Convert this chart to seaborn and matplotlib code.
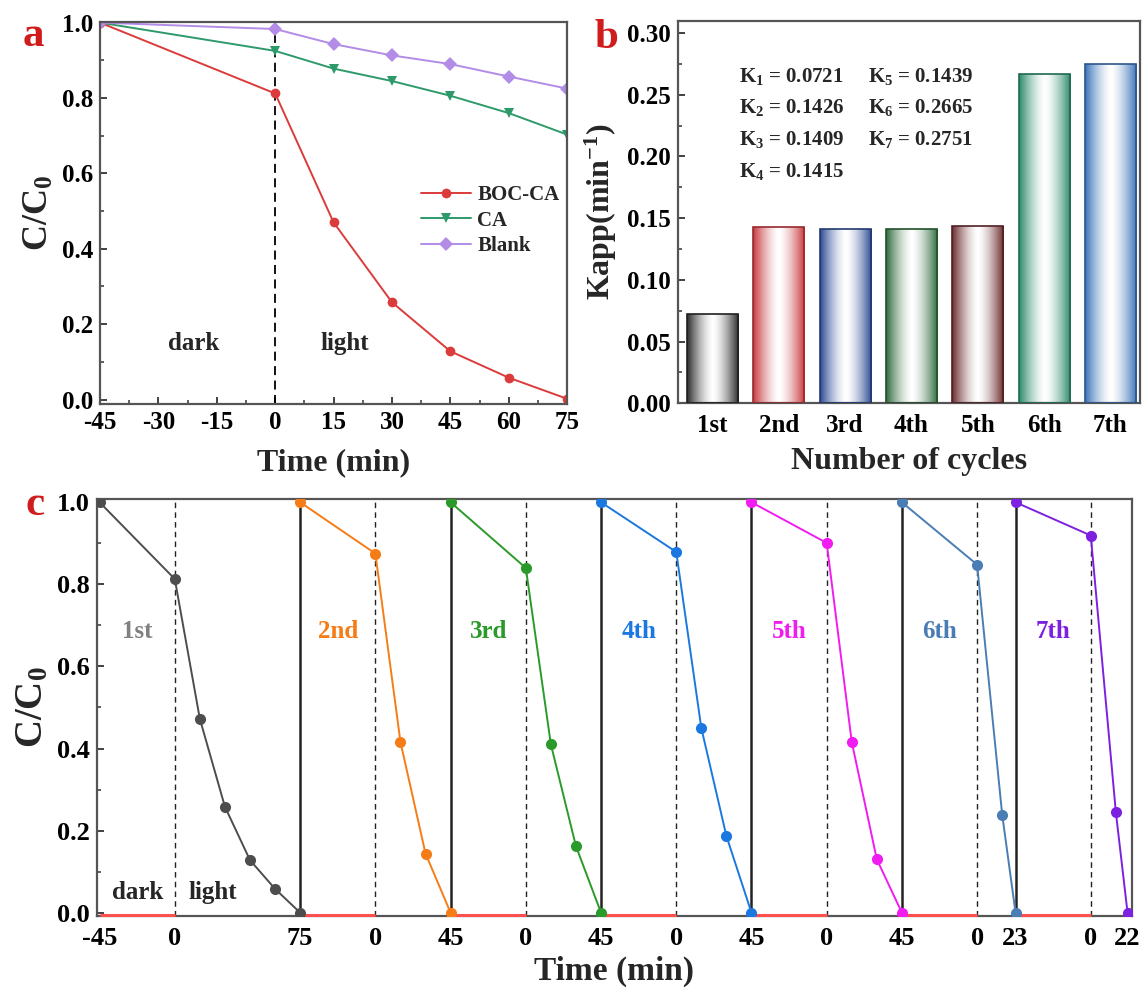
import numpy as np
import pandas as pd
import matplotlib
matplotlib.use("Agg")
import matplotlib.pyplot as plt
import seaborn as sns
from matplotlib.ticker import MultipleLocator
from matplotlib.colors import to_rgb

# ---------------- data ----------------
# panel a
time_a = [-45, 0, 15, 30, 45, 60, 75]
boc_ca = [1.0, 0.812, 0.470, 0.258, 0.128, 0.058, 0.002]
ca = [1.0, 0.925, 0.878, 0.845, 0.806, 0.760, 0.703]
blank = [1.0, 0.983, 0.943, 0.913, 0.890, 0.857, 0.825]
series_a = ["BOC-CA", "CA", "Blank"]
xticks_a = [-45, -30, -15, 0, 15, 30, 45, 60, 75]

# panel b
cycles = ["1st", "2nd", "3rd", "4th", "5th", "6th", "7th"]
kapp = [0.0721, 0.1426, 0.1409, 0.1415, 0.1439, 0.2665, 0.2751]
k_text = ["0.0721", "0.1426", "0.1409", "0.1415", "0.1439", "0.2665", "0.2751"]

# panel c
cyc1_t = [-45, 0, 15, 30, 45, 60, 75]
cyc1_c = [1.0, 0.813, 0.472, 0.258, 0.128, 0.058, 0.0]
cyc2_t = [-45, 0, 15, 30, 45]
cyc2_c = [1.0, 0.875, 0.416, 0.144, 0.0]
cyc3_t = [-45, 0, 15, 30, 45]
cyc3_c = [1.0, 0.840, 0.410, 0.162, 0.0]
cyc4_t = [-45, 0, 15, 30, 45]
cyc4_c = [1.0, 0.879, 0.450, 0.187, 0.0]
cyc5_t = [-45, 0, 15, 30, 45]
cyc5_c = [1.0, 0.901, 0.416, 0.130, 0.0]
cyc6_t = [-45, 0, 15, 23]
cyc6_c = [1.0, 0.848, 0.239, 0.0]
cyc7_t = [-45, 0, 15, 22]
cyc7_c = [1.0, 0.919, 0.245, 0.0]

# ---------------- style ----------------
sns.set_theme(style="ticks")
plt.rcParams["font.family"] = ["Liberation Serif", "DejaVu Serif"]
plt.rcParams["font.weight"] = "bold"
plt.rcParams["axes.labelweight"] = "bold"
plt.rcParams["mathtext.fontset"] = "custom"
plt.rcParams["mathtext.rm"] = "Liberation Serif:bold"
plt.rcParams["mathtext.bf"] = "Liberation Serif:bold"
plt.rcParams["mathtext.it"] = "Liberation Serif:bold:italic"

TICK = 18
LAB = 23
SPINE = "#555555"
RED = "#d01c1c"

fig = plt.figure(figsize=(11.42, 9.94), dpi=100)
ax_a = fig.add_axes([0.0876, 0.5935, 0.4090, 0.3845])
ax_b = fig.add_axes([0.5937, 0.5943, 0.4046, 0.3850])
ax_c = fig.add_axes([0.0850, 0.0785, 0.9060, 0.4195])


def style_axes(ax, size=TICK):
    for s in ax.spines.values():
        s.set_color(SPINE)
        s.set_linewidth(1.6)
    ax.tick_params(direction="in", length=5, width=1.3, colors="#333333",
                   labelsize=size, labelcolor="black", pad=5)
    ax.tick_params(which="minor", direction="in", length=3, width=1.1, colors="#333333")


# ---------------- panel a ----------------
df_a = pd.DataFrame({
    "time": time_a * 3,
    "value": boc_ca + ca + blank,
    "sample": sum([[s] * len(time_a) for s in series_a], []),
})
pal_a = {"BOC-CA": "#dc3b3b", "CA": "#2e9a6a", "Blank": "#b28ce6"}
mk_a = {"BOC-CA": "o", "CA": "v", "Blank": "D"}
sns.lineplot(data=df_a, x="time", y="value", hue="sample", style="sample",
             palette=pal_a, markers=mk_a, dashes=False, markersize=7,
             markeredgewidth=0, linewidth=1.4, ax=ax_a, sort=False)
ax_a.axvline(0, color="black", ls=(0, (5, 3)), lw=1.3, zorder=1)
ax_a.set_xlim(-45, 75)
ax_a.set_ylim(-0.012, 1.002)
ax_a.set_xticks(xticks_a)
ax_a.set_xticklabels([str(v) for v in xticks_a])
ax_a.xaxis.set_minor_locator(MultipleLocator(7.5))
ax_a.set_yticks([0.0, 0.2, 0.4, 0.6, 0.8, 1.0])
ax_a.yaxis.set_minor_locator(MultipleLocator(0.1))
ax_a.set_xlabel("Time (min)", fontsize=LAB, labelpad=10)
ax_a.set_ylabel("C/C$_0$", fontsize=LAB + 3, labelpad=4)
style_axes(ax_a)
ax_a.text(-21, 0.15, "dark", fontsize=TICK, ha="center", va="center")
ax_a.text(18, 0.15, "light", fontsize=TICK, ha="center", va="center")
leg = ax_a.legend(loc="center left", bbox_to_anchor=(0.687, 0.48), frameon=False,
                  fontsize=15, handlelength=2.4, handletextpad=0.3,
                  labelspacing=0.25, borderaxespad=0, borderpad=0)
ax_a.text(-0.143, 0.962, "a", transform=ax_a.transAxes, color=RED,
          fontsize=31, fontweight="bold", ha="center", va="center")

# ---------------- panel b ----------------
bar_cols = ["#2b2b2b", "#c8383c", "#2d4c94", "#2f6b3c", "#6b2b2e", "#2a8a6a", "#3a73b8"]
df_b = pd.DataFrame({"cycle": cycles, "kapp": kapp})
sns.barplot(data=df_b, x="cycle", y="kapp", hue="cycle", palette=bar_cols,
            width=0.77, legend=False, ax=ax_b, saturation=1)
for patch, col in zip(ax_b.patches, bar_cols):
    x0, y0 = patch.get_x(), patch.get_y()
    w, h = patch.get_width(), patch.get_height()
    rgb = np.array(to_rgb(col))
    t = np.abs(np.linspace(-1, 1, 200))
    f = np.clip(t ** 1.5, 0, 1)[:, None]
    grad = (1 - f) * np.ones(3) + f * rgb
    grad = grad[None, :, :]
    im = ax_b.imshow(grad, extent=[x0, x0 + w, y0, y0 + h], aspect="auto",
                     zorder=2, interpolation="bilinear")
    im.set_clip_path(patch)
    patch.set_facecolor("none")
    patch.set_edgecolor(rgb * 0.75)
    patch.set_linewidth(1.2)
    patch.set_zorder(3)
ax_b.set_xlim(-0.518, 6.446)
ax_b.set_ylim(0, 0.31)
ax_b.set_yticks([0.0, 0.05, 0.10, 0.15, 0.20, 0.25, 0.30])
ax_b.set_yticklabels(["0.00", "0.05", "0.10", "0.15", "0.20", "0.25", "0.30"])
ax_b.yaxis.set_minor_locator(MultipleLocator(0.025))
ax_b.set_xlabel("Number of cycles", fontsize=LAB, labelpad=7)
ax_b.set_ylabel("Kapp(min$^{-1}$)", fontsize=LAB, labelpad=6)
style_axes(ax_b)
ax_b.tick_params(axis="x", length=0, pad=8)
rows = [0.2648, 0.2392, 0.2135, 0.1878]
for i, val in enumerate(k_text):
    col = 0 if i < 4 else 1
    row = i if i < 4 else i - 4
    xf = 0.132 if col == 0 else 0.411
    ax_b.text(xf, rows[row], "K$_{%d}$ = %s" % (i + 1, val), fontsize=15,
              transform=ax_b.get_yaxis_transform(), ha="left", va="center")
ax_b.text(-0.155, 0.955, "b", transform=ax_b.transAxes, color=RED,
          fontsize=31, fontweight="bold", ha="center", va="center")

# ---------------- panel c ----------------
cyc_t = [cyc1_t, cyc2_t, cyc3_t, cyc4_t, cyc5_t, cyc6_t, cyc7_t]
cyc_c = [cyc1_c, cyc2_c, cyc3_c, cyc4_c, cyc5_c, cyc6_c, cyc7_c]
cyc_cols = ["#4d4d4d", "#f57c16", "#2a9a2a", "#1a78e0", "#f01cf0", "#4a7db4", "#7d20e0"]
lab_cols = ["#808080", "#f57c16", "#2a9a2a", "#1a78e0", "#f01cf0", "#4a7db4", "#7d20e0"]

rows_c = []
starts, zeros, ends = [], [], []
for k, (tt, cc) in enumerate(zip(cyc_t, cyc_c)):
    shift = 0.0 if k == 0 else ends[-1] - tt[0]
    xs = [t + shift for t in tt]
    starts.append(xs[0]); zeros.append(shift); ends.append(xs[-1])
    for x, c in zip(xs, cc):
        rows_c.append({"x": x, "c": c, "cycle": cycles[k]})
df_c = pd.DataFrame(rows_c)

sns.lineplot(data=df_c, x="x", y="c", hue="cycle", palette=cyc_cols,
             marker="o", markersize=8, markeredgewidth=0, linewidth=1.4,
             legend=False, ax=ax_c, sort=False, zorder=4)
for k in range(len(cyc_t)):
    ax_c.axvline(zeros[k], color="#222222", ls=(0, (4, 3)), lw=1.0, zorder=1)
    if k > 0:
        ax_c.axvline(starts[k], color="#222222", lw=1.8, zorder=2)
    ax_c.plot([starts[k], zeros[k]], [-0.006, -0.006], color="#ff5050", lw=2.2,
              zorder=3, clip_on=False, solid_capstyle="butt")
    ax_c.text((starts[k] + zeros[k]) / 2, 0.686, cycles[k], color=lab_cols[k],
              fontsize=TICK, ha="center", va="center")
ax_c.text((starts[0] + zeros[0]) / 2, 0.05, "dark", fontsize=TICK, ha="center", va="center")
ax_c.text(zeros[0] + 23, 0.05, "light", fontsize=TICK, ha="center", va="center")

ticks_c = [starts[0]]
labels_c = [str(cyc_t[0][0])]
for k in range(len(cyc_t)):
    ticks_c += [zeros[k], ends[k]]
    labels_c += ["0", str(cyc_t[k][-1])]
ax_c.set_xticks(ticks_c)
ax_c.set_xticklabels(labels_c)
ax_c.set_xlim(starts[0] - 1.5, ends[-1] + 2.5)
ax_c.set_ylim(-0.008, 1.008)
ax_c.set_yticks([0.0, 0.2, 0.4, 0.6, 0.8, 1.0])
ax_c.yaxis.set_minor_locator(MultipleLocator(0.1))
ax_c.set_xlabel("Time (min)", fontsize=LAB + 1, labelpad=4)
ax_c.set_ylabel("C/C$_0$", fontsize=LAB + 5, labelpad=4)
style_axes(ax_c, TICK + 1)
ax_c.tick_params(axis="x", length=0, pad=8)
ax_c.text(-0.060, 0.985, "c", transform=ax_c.transAxes, color=RED,
          fontsize=31, fontweight="bold", ha="center", va="center")

fig.savefig("out.png", dpi=100)
